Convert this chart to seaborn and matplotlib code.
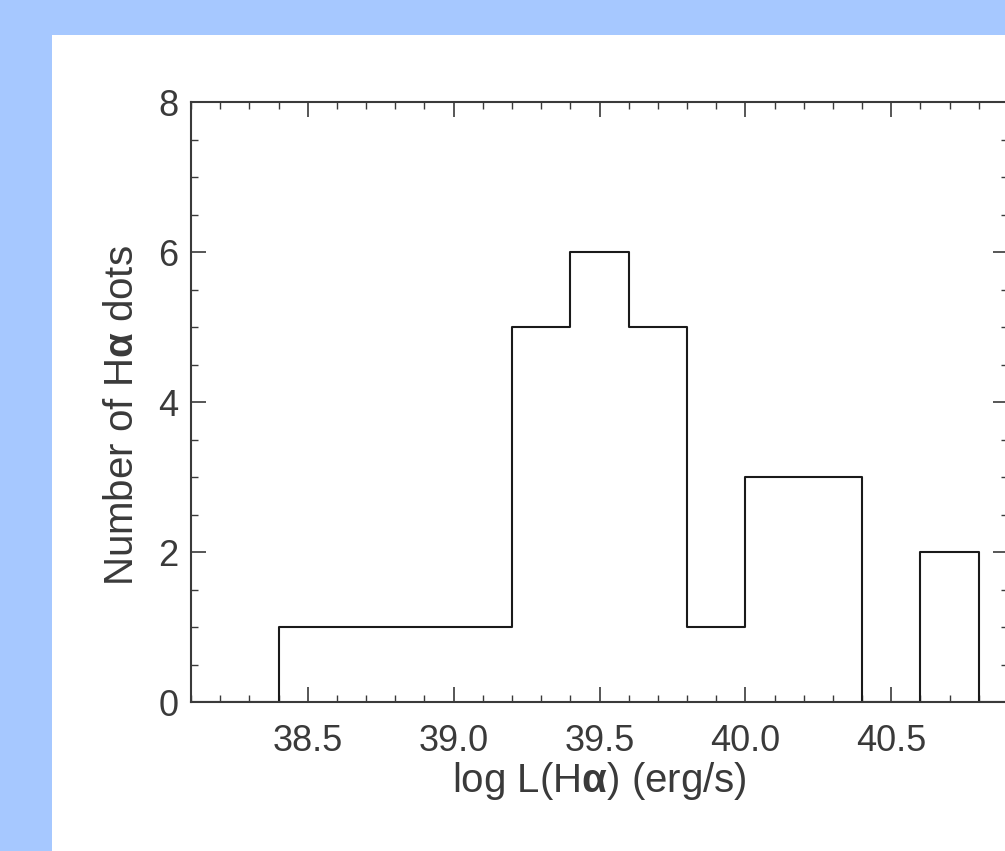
import matplotlib
matplotlib.use("Agg")
import matplotlib.pyplot as plt
import seaborn as sns
from matplotlib.patches import Rectangle
from matplotlib.ticker import MultipleLocator, FuncFormatter

# bin centres of log L(Halpha) and number of dots in each 0.2 dex bin
bin_centers = [38.5, 38.7, 38.9, 39.1, 39.3, 39.5, 39.7, 39.9, 40.1, 40.3, 40.5, 40.7]
counts = [1, 1, 1, 1, 5, 6, 5, 1, 3, 3, 0, 2]

x_label = r"log L(H$\mathbf{\alpha}$) (erg/s)"
y_label = r"Number of H$\mathbf{\alpha}$ dots"

sns.set_theme(style="ticks")
plt.rcParams["font.family"] = ["Liberation Sans", "DejaVu Sans"]
plt.rcParams["mathtext.fontset"] = "custom"
plt.rcParams["mathtext.rm"] = "Liberation Sans"
plt.rcParams["mathtext.bf"] = "Liberation Sans:bold"
plt.rcParams["mathtext.it"] = "Liberation Sans:italic"

ink = "#3a3a3a"
fig = plt.figure(figsize=(10.05, 8.51), dpi=100, facecolor="#a6c8ff")
# white panel on the blue page, kept behind the axes
panel = Rectangle((52 / 1005, 0), 1, 1 - 35 / 851, transform=fig.transFigure,
                  facecolor="white", edgecolor="none", zorder=-10)
fig.add_artist(panel)

ax = fig.add_axes([191 / 1005, 149 / 851, 817 / 1005, 600 / 851])
ax.set_facecolor("none")
ax.set_zorder(5)

sns.histplot(x=bin_centers, weights=counts, binwidth=0.2, binrange=(38.0, 41.0),
             element="step", fill=False, color="#1a1a1a", linewidth=1.5, ax=ax)

ax.set_xlim(38.1, 40.9)
ax.set_ylim(0, 8)
ax.xaxis.set_major_locator(MultipleLocator(0.5))
ax.xaxis.set_minor_locator(MultipleLocator(0.1))
ax.yaxis.set_major_locator(MultipleLocator(2))
ax.yaxis.set_minor_locator(MultipleLocator(0.5))
ax.xaxis.set_major_formatter(FuncFormatter(lambda v, p: "" if v < 38.3 else f"{v:.1f}"))

ax.tick_params(which="both", direction="in", top=True, right=True, colors=ink,
               labelsize=26, labelcolor=ink)
ax.tick_params(which="major", length=11, width=1.2)
ax.tick_params(which="minor", length=5, width=1.0)
ax.tick_params(axis="x", which="major", pad=16)
ax.tick_params(axis="y", which="major", pad=9)
for s in ax.spines.values():
    s.set_color(ink)
    s.set_linewidth(1.5)

ax.set_xlabel(x_label, fontsize=29, color=ink)
ax.set_ylabel(y_label, fontsize=29, color=ink)
ax.xaxis.set_label_coords(0.5, -0.097)
ax.yaxis.set_label_coords(-0.061, 0.477)

fig.savefig("out.png", dpi=100, facecolor=fig.get_facecolor())
